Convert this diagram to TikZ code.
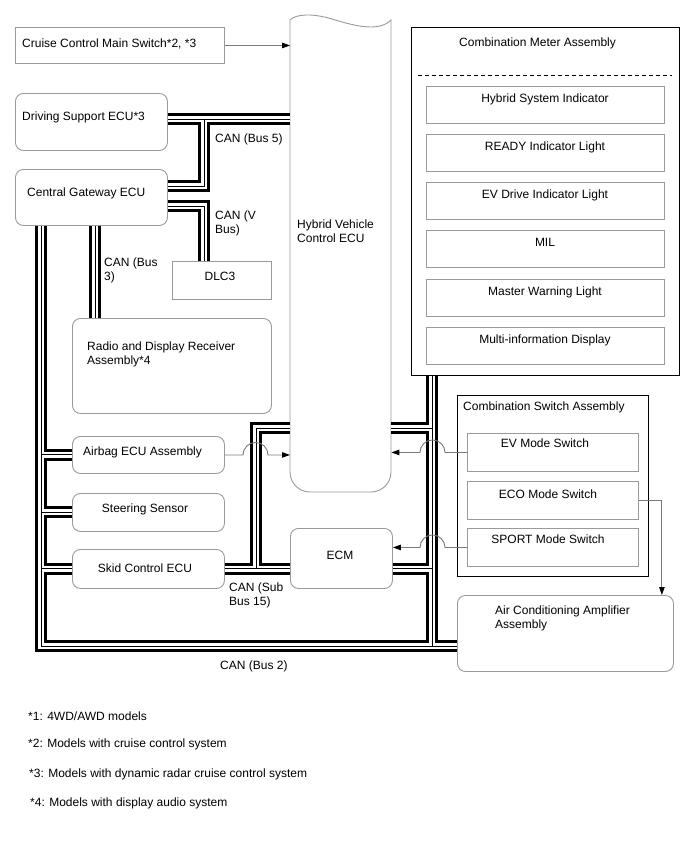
\documentclass[tikz,border=0pt]{standalone}
\usepackage{fontspec}
\setmainfont{Liberation Sans}
\usetikzlibrary{arrows.meta}
\definecolor{frame}{HTML}{9A9A9A}
\definecolor{wire}{HTML}{7A7A7A}

\tikzset{
  box/.style={draw=frame,line width=.9pt,inner sep=0pt,anchor=north west},
  ecu/.style={box,rounded corners=8pt},
  group/.style={box,draw=black},
  lbl/.style={inner sep=0pt,anchor=base west,font=\fontsize{12}{14}\selectfont,align=left},
  clbl/.style={lbl,anchor=base},
  sig/.style={wire,line width=.9pt,-{Triangle[length=8pt,width=5.5pt,color=black]}},
  busout/.style={line width=12pt},
  busgap/.style={line width=6pt,white},
  buscore/.style={line width=1pt},
}
% all CAN lines, drawn three times so that joints merge
\newcommand\canbus[1]{%
  \draw[#1] (dse.east |- 0,119) -- (hv.west |- 0,119) (204,119) |- (cgw.east |- 0,186);
  \draw[#1] (cgw.east |- 0,206) -| (dlc.north -| 204,0);
  \draw[#1] (95,0 |- cgw.south) -- (95,0 |- rdr.north);
  \draw[#1] (41,0 |- cgw.south) -- (41,646) -- (aca.west |- 0,646);
  \foreach \n in {airbag,steer,skid}{\draw[#1] (41,0 |- \n.west) -- (\n.west);}
  \draw[#1] (432,0 |- meter.south) -- (432,646);
  \draw[#1] (hv.east |- 0,428) -- (432,428) (ecm.east |- skid.east) -- (432,0 |- skid.east);
  \draw[#1] (skid.east) -- (ecm.west |- skid.east) (256,0 |- skid.east) |- (hv.west |- 0,428);
}

\begin{document}
\begin{tikzpicture}[x=1pt,y=-1pt,line join=miter]
\useasboundingbox (0,0) rectangle (688,852);
\fill[white] (0,0) rectangle (688,852);
% left side
\node[box,minimum width=209pt,minimum height=36pt] (ccms) at (15,27) {};
\node[lbl] (ccms-t) at (22,47) {Cruise Control Main Switch*2, *3};
\node[ecu,minimum width=152pt,minimum height=57pt] (dse) at (15,93) {};
\node[lbl] (dse-t) at (22,120) {Driving Support ECU*3};
\node[ecu,minimum width=152pt,minimum height=56pt] (cgw) at (15,169) {};
\node[lbl] (cgw-t) at (27,196) {Central Gateway ECU};
\node[box,minimum width=99pt,minimum height=38pt] (dlc) at (172,261) {};
\node[clbl] (dlc-t) at (220,280) {DLC3};
\node[ecu,minimum width=199pt,minimum height=95pt] (rdr) at (72,318) {};
\node[lbl] (rdr-t) at (87,364) {Radio and Display Receiver\\Assembly*4};
\node[ecu,minimum width=152pt,minimum height=37pt] (airbag) at (72,436) {};
\node[lbl] (airbag-t) at (83,455) {Airbag ECU Assembly};
\node[ecu,minimum width=152pt,minimum height=38pt] (steer) at (72,493) {};
\node[clbl] (steer-t) at (145,512) {Steering Sensor};
\node[ecu,minimum width=152pt,minimum height=39pt] (skid) at (72,549) {};
\node[clbl] (skid-t) at (145,572) {Skid Control ECU};
\node[ecu,minimum width=102pt,minimum height=60pt] (ecm) at (290,528) {};
\node[clbl] (ecm-t) at (340,559) {ECM};
% hybrid vehicle control ecu
\node[inner sep=0pt,minimum width=101pt,minimum height=476pt,anchor=north west] (hv) at (290,16) {};
\draw[frame,line width=.9pt] (290,20) .. controls (296,14) and (312,13) .. (332,19) .. controls (352,25) and (378,33) .. (391,20) -- (391,472) arc[start angle=0,end angle=-90,radius=20pt] -- (310,492) arc[start angle=270,end angle=180,radius=20pt] -- cycle;
\node[lbl] (hv-t) at (297,242) {Hybrid Vehicle\\Control ECU};
% combination meter
\node[group,minimum width=268pt,minimum height=348pt] (meter) at (411,27) {};
\node[lbl] (meter-t) at (459,46) {Combination Meter Assembly};
\draw[black,line width=.9pt,dash pattern=on 4pt off 3pt] (418,75) -- (672,75);
\foreach \n/\y/\t in {hsi/86/Hybrid System Indicator,ready/134/READY Indicator Light,evdi/182/EV Drive Indicator Light,mil/230/MIL,mwl/279/Master Warning Light,mid/327/Multi-information Display}{
  \node[box,minimum width=238pt,minimum height=37pt] (\n) at (426,\y) {};
  \node[clbl] (\n-t) at (545,\y+16) {\t};
}
% combination switch
\node[group,minimum width=191pt,minimum height=181pt] (csw) at (457,395) {};
\node[lbl] (csw-t) at (463,410) {Combination Switch Assembly};
\node[box,minimum width=171pt,minimum height=38pt] (evsw) at (467,433) {};
\node[clbl] (evsw-t) at (545,447) {EV Mode Switch};
\node[box,minimum width=171pt,minimum height=38pt] (ecosw) at (467,481) {};
\node[clbl] (ecosw-t) at (548,498) {ECO Mode Switch};
\node[box,minimum width=171pt,minimum height=38pt] (sportsw) at (467,528) {};
\node[clbl] (sportsw-t) at (548,543) {SPORT Mode Switch};
\node[ecu,minimum width=216pt,minimum height=76pt] (aca) at (457,595) {};
\node[lbl] (aca-t) at (495,628) {Air Conditioning Amplifier\\Assembly};
% CAN lines
\canbus{busout}
\canbus{busgap}
\canbus{buscore}
\node[lbl] (bus5) at (215,142) {CAN (Bus 5)};
\node[lbl] (vbus) at (215,233) {CAN (V\\Bus)};
\node[lbl] (bus3) at (104,280) {CAN (Bus\\3)};
\node[lbl] (bus15) at (229,605) {CAN (Sub\\Bus 15)};
\node[lbl] (bus2) at (220,669) {CAN (Bus 2)};
% signal lines
\draw[sig] (ccms.east) -- (ccms.east -| hv.west);
\draw[sig] (airbag.east) -- (airbag.east -| 243,0) arc[start angle=180,end angle=0,radius=12.5pt] -- (airbag.east -| hv.west);
\draw[sig] (evsw.west) -- (evsw.west -| 445,0) arc[start angle=0,end angle=180,radius=12.5pt] -- (evsw.west -| hv.east);
\draw[sig] (sportsw.west) -- (sportsw.west -| 445,0) arc[start angle=0,end angle=180,radius=12.5pt] -- (sportsw.west -| ecm.east);
\draw[sig] (ecosw.east) -| ([xshift=-12pt]aca.north east);
% notes
\node[lbl] (n1) at (28,720) {*1: 4WD/AWD models};
\node[lbl] (n2) at (28,747) {*2: Models with cruise control system};
\node[lbl] (n3) at (29,777) {*3: Models with dynamic radar cruise control system};
\node[lbl] (n4) at (30,806) {*4: Models with display audio system};
\end{tikzpicture}
\end{document}
